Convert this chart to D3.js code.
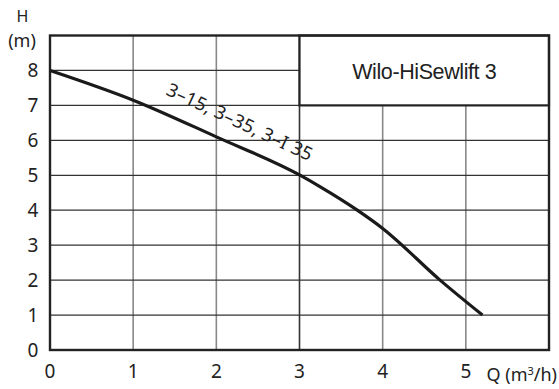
<!DOCTYPE html>
<html><head><meta charset="utf-8">
<script src="https://cdn.jsdelivr.net/npm/d3@7/dist/d3.min.js"></script>
<style>body{margin:0;background:#fff}svg{display:block}</style>
</head><body>
<svg id="c" width="559" height="389"></svg>
<script>
const qTicks = [0,1,2,3,4,5];
const hTicks = [0,1,2,3,4,5,6,7,8];
const curveQ = [0, 1, 2, 3, 3.25, 3.69, 4, 4.69, 5.2];
const curveH = [8, 7.15, 6.1, 5.01, 4.67, 4.01, 3.48, 2.0, 1.0];
const curveLabel = "3–15, 3–35, 3–I 35";
const title = "Wilo-HiSewlift 3";

const svg = d3.select("#c");
const x = d3.scaleLinear().domain([0,6]).range([50,549]);
const y = d3.scaleLinear().domain([0,9]).range([350,35.5]);
const font = "'Noto Sans', sans-serif";

// vertical grid
svg.append("g").selectAll("line").data([1,2,3,4,5]).join("line")
  .attr("x1", d=>x(d)).attr("x2", d=>x(d)).attr("y1", y(0)).attr("y2", y(9))
  .attr("stroke", d=> d===3 ? "#333" : "#888").attr("stroke-width", 1.6);
// horizontal grid
svg.append("g").selectAll("line").data([1,2,3,4,5,6,7,8]).join("line")
  .attr("x1", x(0)).attr("x2", x(6)).attr("y1", d=>y(d)).attr("y2", d=>y(d))
  .attr("stroke", "#333").attr("stroke-width", 1.3);

// title box
svg.append("rect").attr("x", x(3)).attr("y", y(9)).attr("width", x(6)-x(3)).attr("height", y(7)-y(9))
  .attr("fill", "#fff").attr("stroke", "#222").attr("stroke-width", 2.2);
svg.append("text").attr("x", (x(3)+x(6))/2).attr("y", (y(9)+y(7))/2 + 8.5)
  .attr("text-anchor", "middle").attr("font-family", "'Liberation Sans', Arial, sans-serif")
  .attr("font-size", 21.5).attr("letter-spacing", -0.4).attr("fill", "#222").text(title);

// frame
svg.append("rect").attr("x", x(0)).attr("y", y(9)).attr("width", x(6)-x(0)).attr("height", y(0)-y(9))
  .attr("fill", "none").attr("stroke", "#222").attr("stroke-width", 2.4);

// curve
const pts = curveQ.map((q,i)=>[q, curveH[i]]);
svg.append("path").datum(pts)
  .attr("d", d3.line().x(d=>x(d[0])).y(d=>y(d[1])).curve(d3.curveMonotoneX))
  .attr("fill", "none").attr("stroke", "#1a1a1a").attr("stroke-width", 3.2);

// curve label
svg.append("text")
  .attr("transform", `translate(${x(2.25)},${y(6.36)}) rotate(25)`)
  .attr("text-anchor", "middle").attr("font-family", font).attr("font-size", 18.5)
  .attr("letter-spacing", 0.3).attr("fill", "#222").text(curveLabel);

// y tick labels
svg.append("g").selectAll("text").data(hTicks).join("text")
  .attr("x", 33).attr("y", d=>y(d)+7).attr("text-anchor", "middle")
  .attr("font-family", font).attr("font-size", 19).attr("fill", "#222").text(d=>d);
// x tick labels
svg.append("g").selectAll("text").data(qTicks).join("text")
  .attr("x", d=>x(d)).attr("y", 378).attr("text-anchor", "middle")
  .attr("font-family", font).attr("font-size", 19).attr("fill", "#222").text(d=>d);

// axis titles
svg.append("text").attr("x", 22.5).attr("y", 22).attr("text-anchor","middle")
  .attr("font-family", font).attr("font-size", 16).attr("fill", "#222").text("H");
svg.append("text").attr("x", 22).attr("y", 47).attr("text-anchor","middle")
  .attr("font-family", font).attr("font-size", 18).attr("fill", "#222").text("(m)");
svg.append("text").attr("x", 557).attr("y", 381).attr("text-anchor","end")
  .attr("font-family", font).attr("font-size", 18).attr("fill", "#222")
  .call(t => { t.append("tspan").text("Q (m");
               t.append("tspan").attr("font-size", 11).attr("dy", -6).text("3");
               t.append("tspan").attr("dy", 6).text("/h)"); });
</script>
</body></html>
